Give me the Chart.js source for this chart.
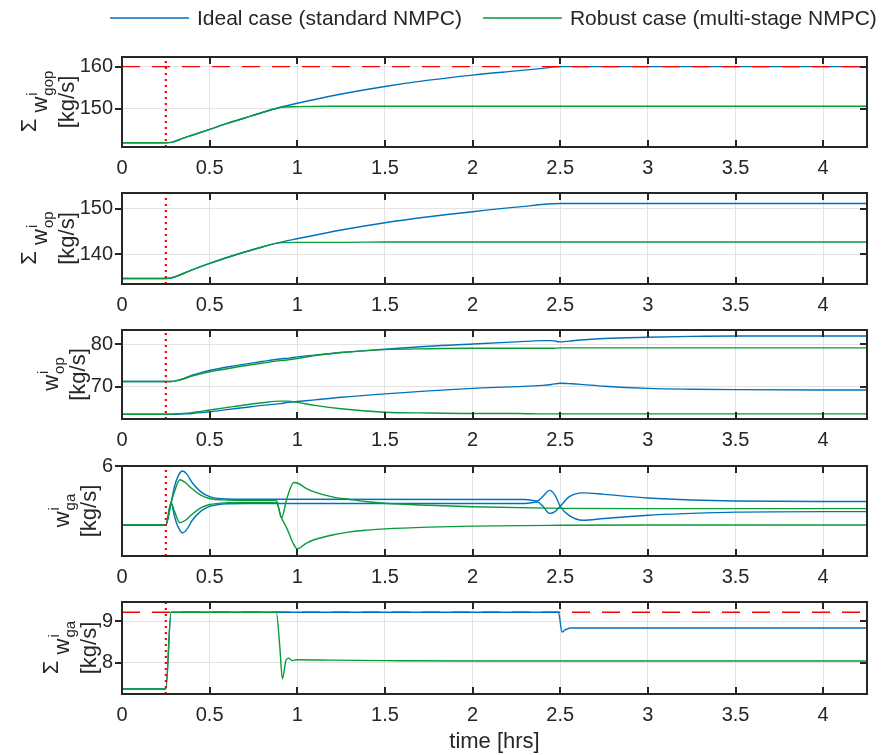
<!DOCTYPE html>
<html>
<head>
<meta charset="utf-8">
<script src="https://cdn.jsdelivr.net/npm/chart.js@4"></script>
<style>
  body { margin: 0; background: #fff; }
  #fig { position: relative; width: 882px; height: 755px; overflow: hidden; }
  #fig canvas { position: absolute; left: 0; }
</style>
</head>
<body>
<div id="fig"></div>
<script>
// shared time axis [hrs]
const timeTicks = [0, 0.5, 1, 1.5, 2, 2.5, 3, 3.5, 4]
const timeMax = 4.25
const stepTime = 0.25

const seriesNames = ['Ideal case (standard NMPC)', 'Robust case (multi-stage NMPC)']

// total gas + oil production
const tGop = [0, 0.25, 0.28, 0.35, 0.4, 0.5, 0.6, 0.7, 0.8, 0.9, 1.0, 1.2, 1.5, 1.75, 2.0, 2.25, 2.4, 2.5, 4.25]
const gopIdeal = [141.9, 141.9, 142.0, 143.0, 143.7, 145.1, 146.5, 147.8, 149.1, 150.3, 151.3, 153.1, 155.3, 156.8, 158.0, 159.0, 159.6, 160.0, 160.0]
const gopRobust = [141.9, 141.9, 142.0, 143.0, 143.7, 145.1, 146.5, 147.8, 149.1, 150.3, 150.5, 150.6, 150.6, 150.6, 150.6, 150.6, 150.6, 150.6, 150.6]
const gopLimit = 160
const gopTicks = [150, 160]

// total oil production
const tOp = [0, 0.25, 0.28, 0.4, 0.5, 0.6, 0.7, 0.8, 0.9, 1.0, 1.25, 1.5, 1.75, 2.0, 2.25, 2.5, 4.25]
const opIdeal = [134.7, 134.7, 134.8, 136.6, 138.0, 139.3, 140.5, 141.6, 142.6, 143.4, 145.3, 146.9, 148.2, 149.3, 150.3, 151.1, 151.1]
const opRobust = [134.7, 134.7, 134.8, 136.6, 138.0, 139.3, 140.5, 141.6, 142.5, 142.6, 142.6, 142.7, 142.7, 142.7, 142.7, 142.7, 142.7]
const opTicks = [140, 150]

// oil production per well
const tWell = [0, 0.25, 0.28, 0.3, 0.35, 0.4, 0.45, 0.5, 0.6, 0.7, 0.8, 0.9, 0.95, 1.0, 1.1, 1.25, 1.5, 1.75, 2.0, 2.25, 2.4, 2.45, 2.5, 2.55, 2.6, 2.75, 3.0, 3.25, 3.5, 4.25]
const op1Ideal = [71.2, 71.2, 71.2, 71.3, 71.9, 72.7, 73.3, 73.8, 74.6, 75.3, 75.9, 76.5, 76.7, 77.0, 77.4, 78.0, 78.8, 79.5, 80.0, 80.5, 80.8, 80.8, 80.5, 80.7, 80.9, 81.3, 81.6, 81.8, 81.9, 81.9]
const op1Robust = [71.2, 71.2, 71.2, 71.3, 71.8, 72.5, 73.0, 73.5, 74.2, 74.9, 75.5, 76.1, 76.3, 76.6, 77.3, 78.0, 78.7, 78.9, 79.0, 79.0, 79.0, 79.0, 79.1, 79.1, 79.1, 79.1, 79.1, 79.1, 79.1, 79.1]
const op2Ideal = [63.5, 63.5, 63.5, 63.5, 63.6, 63.7, 63.9, 64.1, 64.6, 65.1, 65.6, 66.0, 66.3, 66.5, 66.9, 67.5, 68.3, 69.0, 69.6, 70.0, 70.3, 70.5, 70.8, 70.7, 70.6, 70.1, 69.6, 69.4, 69.3, 69.2]
const op2Robust = [63.5, 63.5, 63.5, 63.6, 63.7, 63.9, 64.2, 64.5, 65.1, 65.7, 66.2, 66.6, 66.6, 66.3, 65.6, 64.8, 64.0, 63.8, 63.7, 63.7, 63.6, 63.6, 63.6, 63.6, 63.6, 63.6, 63.6, 63.6, 63.6, 63.6]
const wellTicks = [70, 80]

// gas lift per well
const tGaIdeal = [0, 0.25, 0.28, 0.3, 0.32, 0.345, 0.37, 0.4, 0.45, 0.5, 0.55, 0.6, 0.7, 2.3, 2.37, 2.4, 2.44, 2.47, 2.5, 2.55, 2.63, 2.75, 3.0, 3.25, 3.5, 4.0, 4.25]
const ga1Ideal = [3.67, 3.67, 4.55, 5.2, 5.6, 5.80, 5.68, 5.35, 4.98, 4.79, 4.72, 4.70, 4.69, 4.68, 4.62, 4.80, 5.04, 4.85, 4.41, 4.05, 3.86, 3.93, 4.06, 4.13, 4.18, 4.20, 4.20]
const ga2Ideal = [3.67, 3.67, 4.55, 4.0, 3.6, 3.36, 3.5, 3.85, 4.22, 4.41, 4.48, 4.51, 4.52, 4.52, 4.58, 4.42, 4.13, 4.20, 4.41, 4.78, 4.94, 4.88, 4.74, 4.66, 4.62, 4.60, 4.60]
const tGaRobust = [0, 0.25, 0.28, 0.3, 0.33, 0.36, 0.4, 0.45, 0.5, 0.6, 0.7, 0.88, 0.91, 0.94, 0.98, 1.0, 1.05, 1.1, 1.2, 1.3, 1.4, 1.5, 1.75, 2.0, 2.5, 3.0, 4.25]
const ga1Robust = [3.67, 3.67, 4.55, 5.0, 5.46, 5.35, 5.1, 4.85, 4.72, 4.66, 4.65, 4.65, 3.95, 4.7, 5.35, 5.33, 5.12, 4.97, 4.78, 4.68, 4.59, 4.53, 4.45, 4.39, 4.33, 4.32, 4.32]
const ga2Robust = [3.67, 3.67, 4.55, 4.2, 3.76, 3.85, 4.1, 4.35, 4.48, 4.55, 4.56, 4.56, 3.95, 3.55, 2.9, 2.73, 2.95, 3.1, 3.28, 3.40, 3.47, 3.52, 3.59, 3.63, 3.66, 3.67, 3.67]
const gaTicks = [6]

// total gas lift
const tSumIdeal = [0, 0.25, 0.28, 2.49, 2.51, 2.53, 2.56, 4.25]
const gaSumIdeal = [7.36, 7.36, 9.22, 9.22, 8.74, 8.80, 8.84, 8.84]
const tSumRobust = [0, 0.25, 0.28, 0.88, 0.9, 0.915, 0.935, 0.95, 0.97, 1.0, 1.2, 1.5, 2.0, 4.25]
const gaSumRobust = [7.36, 7.36, 9.22, 9.22, 8.4, 7.61, 8.05, 8.11, 8.05, 8.07, 8.06, 8.05, 8.04, 8.04]
const gaLimit = 9.22
const gaSumTicks = [8, 9]

const BLUE = '#0072bd'
const GREEN = '#0a9a3a'
const RED = '#ff0000'
const INK = '#262626'
const FONT = "'Liberation Sans', Arial, sans-serif"

const pts = (ts, vs) => ts.map((t, i) => ({ x: t, y: vs[i] }))

const curve = (data, color) => ({
    data: data,
    borderColor: color,
    borderWidth: 1.4,
    pointRadius: 0,
    fill: false,
    cubicInterpolationMode: 'monotone'
})

const limitLine = (value) => ({
    data: [{ x: 0, y: value }, { x: timeMax, y: value }],
    borderColor: RED,
    borderWidth: 1.4,
    borderDash: [18, 12],
    pointRadius: 0,
    fill: false
})

const stepLine = (lo, hi) => ({
    data: [{ x: stepTime, y: lo }, { x: stepTime, y: hi }],
    borderColor: RED,
    borderWidth: 2.2,
    borderDash: [2, 4],
    pointRadius: 0,
    fill: false
})

// frame with inward ticks, drawn over the lines like a matlab box
const framePlugin = {
    id: 'frame',
    afterDatasetsDraw(chart) {
        const { ctx, chartArea: a, scales: { x, y } } = chart
        ctx.save()
        ctx.strokeStyle = INK
        ctx.lineWidth = 2
        ctx.beginPath()
        x.ticks.forEach(t => {
            const px = Math.round(x.getPixelForValue(t.value))
            ctx.moveTo(px, a.bottom); ctx.lineTo(px, a.bottom - 7)
            ctx.moveTo(px, a.top); ctx.lineTo(px, a.top + 7)
        })
        y.ticks.forEach(t => {
            const py = Math.round(y.getPixelForValue(t.value))
            ctx.moveTo(a.left - 7, py); ctx.lineTo(a.left, py)
            ctx.moveTo(a.right, py); ctx.lineTo(a.right - 7, py)
        })
        ctx.stroke()
        ctx.strokeRect(a.left, a.top, a.right - a.left, a.bottom - a.top)
        ctx.restore()
    }
}

// two-line rotated y label: "Σ w^i_sub" over "[kg/s]"
const yLabelPlugin = {
    id: 'yLabel',
    afterDraw(chart, args, opts) {
        const { ctx, chartArea: a, scales: { y } } = chart
        ctx.save()
        ctx.font = '20px ' + FONT
        const widest = Math.max(...y.ticks.map(t => ctx.measureText(String(t.value)).width))
        const base2 = a.left - 9 - widest - 6
        const base1 = base2 - 27
        const cy = (a.top + a.bottom) / 2
        ctx.fillStyle = INK
        ctx.textBaseline = 'alphabetic'

        ctx.translate(base2, cy)
        ctx.rotate(-Math.PI / 2)
        ctx.textAlign = 'center'
        ctx.font = '22px ' + FONT
        ctx.fillText('[kg/s]', 0, 0)

        ctx.translate(0, base1 - base2)
        ctx.textAlign = 'left'
        const big = '22px ' + FONT
        const small = '15px ' + FONT
        ctx.font = big
        const sig = opts.sigma ? 'Σ ' : ''
        const wSig = ctx.measureText(sig).width
        const wW = ctx.measureText('w').width
        ctx.font = small
        const wScript = Math.max(ctx.measureText('i').width, ctx.measureText(opts.sub).width)
        let u = -(wSig + wW + wScript) / 2
        ctx.font = big
        if (sig) ctx.fillText(sig, u, -11)
        u += wSig
        ctx.fillText('w', u, 0)
        u += wW + 1
        ctx.font = small
        ctx.fillText('i', u, -10)
        ctx.fillText(opts.sub, u, 6)
        ctx.restore()
    }
}

const legendPlugin = {
    id: 'seriesLegend',
    afterDraw(chart, args, opts) {
        if (!opts.show) return
        const ctx = chart.ctx
        ctx.save()
        ctx.font = '21px ' + FONT
        ctx.textBaseline = 'middle'
        ctx.fillStyle = INK
        ctx.lineWidth = 1.5
        const yMid = 18
        let x = 110
        seriesNames.forEach((name, i) => {
            ctx.strokeStyle = [BLUE, GREEN][i]
            ctx.beginPath()
            ctx.moveTo(x, yMid); ctx.lineTo(x + 79, yMid)
            ctx.stroke()
            ctx.fillText(name, x + 87, yMid + 1)
            x += 87 + ctx.measureText(name).width + 21
        })
        ctx.restore()
    }
}

const panels = [
    { min: 140.9, max: 162.3, ticks: gopTicks, sigma: true, sub: 'gop', legend: true,
      sets: [stepLine(140.9, 162.3), limitLine(gopLimit), curve(pts(tGop, gopRobust), GREEN), curve(pts(tGop, gopIdeal), BLUE)] },
    { min: 133.5, max: 153.4, ticks: opTicks, sigma: true, sub: 'op',
      sets: [stepLine(133.5, 153.4), curve(pts(tOp, opRobust), GREEN), curve(pts(tOp, opIdeal), BLUE)] },
    { min: 62.4, max: 83.3, ticks: wellTicks, sigma: false, sub: 'op',
      sets: [stepLine(62.4, 83.3), curve(pts(tWell, op1Robust), GREEN), curve(pts(tWell, op2Robust), GREEN),
             curve(pts(tWell, op1Ideal), BLUE), curve(pts(tWell, op2Ideal), BLUE)] },
    { min: 2.45, max: 6, ticks: gaTicks, sigma: false, sub: 'ga',
      sets: [stepLine(2.45, 6), curve(pts(tGaRobust, ga1Robust), GREEN), curve(pts(tGaRobust, ga2Robust), GREEN),
             curve(pts(tGaIdeal, ga1Ideal), BLUE), curve(pts(tGaIdeal, ga2Ideal), BLUE)] },
    { min: 7.24, max: 9.47, ticks: gaSumTicks, sigma: true, sub: 'ga', xTitle: 'time [hrs]',
      sets: [stepLine(7.24, 9.47), curve(pts(tSumRobust, gaSumRobust), GREEN), curve(pts(tSumIdeal, gaSumIdeal), BLUE), limitLine(gaLimit)] }
]

// plot boxes [top, bottom] in page pixels
const boxes = [[57, 147], [193, 284], [330, 419], [466, 556], [602, 694]]
const fig = document.getElementById('fig')

panels.forEach((p, i) => {
    const top = i === 0 ? 0 : boxes[i][0] - 10
    const bottom = i < boxes.length - 1 ? boxes[i + 1][0] - 10 : 755
    const padTop = boxes[i][0] - top
    const axisH = bottom - boxes[i][1]

    const canvas = document.createElement('canvas')
    canvas.width = 882
    canvas.height = bottom - top
    canvas.style.top = top + 'px'
    fig.appendChild(canvas)

    new Chart(canvas, {
        type: 'line',
        data: { datasets: p.sets },
        options: {
            responsive: false,
            animation: false,
            devicePixelRatio: 1,
            events: [],
            layout: { padding: { top: padTop, right: 15, left: 0, bottom: 0 } },
            scales: {
                x: {
                    type: 'linear',
                    min: 0,
                    max: timeMax,
                    afterBuildTicks: (axis) => { axis.ticks = timeTicks.map(v => ({ value: v })) },
                    afterFit: (axis) => {
                        axis.height = axisH
                        axis.paddingLeft = 0
                        axis.paddingRight = 0
                    },
                    grid: { color: '#e3e3e3', drawTicks: false },
                    border: { display: false },
                    ticks: {
                        color: INK,
                        padding: 9,
                        maxRotation: 0,
                        font: { size: 20, family: FONT },
                        callback: (v) => String(v)
                    },
                    title: {
                        display: !!p.xTitle,
                        text: p.xTitle || '',
                        color: INK,
                        font: { size: 22, family: FONT },
                        padding: { top: 2, bottom: 0 }
                    }
                },
                y: {
                    type: 'linear',
                    min: p.min,
                    max: p.max,
                    afterBuildTicks: (axis) => { axis.ticks = p.ticks.map(v => ({ value: v })) },
                    afterFit: (axis) => {
                        axis.width = 122
                        axis.paddingTop = 0
                        axis.paddingBottom = 0
                    },
                    grid: { color: '#e3e3e3', drawTicks: false },
                    border: { display: false },
                    ticks: {
                        color: INK,
                        padding: 9,
                        font: { size: 20, family: FONT },
                        callback: (v) => String(v)
                    }
                }
            },
            plugins: {
                legend: { display: false },
                tooltip: { enabled: false },
                yLabel: { sigma: p.sigma, sub: p.sub },
                seriesLegend: { show: !!p.legend }
            }
        },
        plugins: [framePlugin, yLabelPlugin, legendPlugin]
    })
})
</script>
</body>
</html>
